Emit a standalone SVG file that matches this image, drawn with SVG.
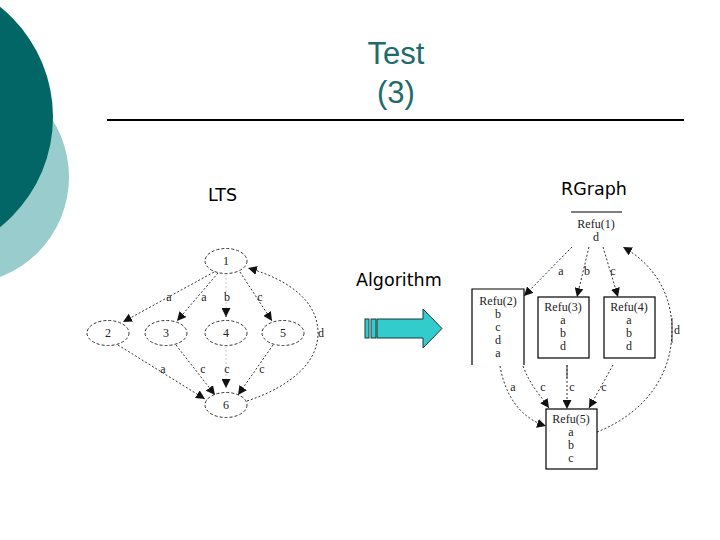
<svg xmlns="http://www.w3.org/2000/svg" width="720" height="540" viewBox="0 0 720 540">
<defs>
<style>
.ttl{font-family:"Liberation Sans",Arial,sans-serif;font-size:31px;fill:#1f6b6b;text-anchor:middle}
.hd{font-family:"DejaVu Sans",Verdana,sans-serif;font-size:17.5px;fill:#000}
.nd{fill:none;stroke:#333;stroke-width:1;stroke-dasharray:3,2}
.bx{fill:#fff;stroke:#000;stroke-width:1.2}
.lb{font-family:"Liberation Serif","Times New Roman",serif;font-size:12px;fill:#222;text-anchor:middle}
.e{fill:none;stroke:#333;stroke-width:1;stroke-dasharray:2,2}
.ef{fill:none;stroke:#ccc;stroke-width:1;stroke-dasharray:2,2}
</style>
<marker id="ah" viewBox="0 0 10 10" refX="10" refY="5" markerWidth="9" markerHeight="9" markerUnits="userSpaceOnUse" orient="auto">
<path d="M0,0 L10,5 L0,10 z" fill="#111"/>
</marker>
</defs>
<rect width="720" height="540" fill="#fff"/>
<circle cx="-38" cy="177" r="107" fill="#99cccc"/>
<circle cx="-88" cy="117" r="141" fill="#036666"/>
<text class="ttl" x="396" y="64">Test</text>
<text class="ttl" x="396" y="103">(3)</text>
<line x1="107" y1="120" x2="684" y2="120" stroke="#000" stroke-width="2.2"/>
<text class="hd" x="208" y="201">LTS</text>
<text class="hd" x="561" y="195">RGraph</text>
<text class="hd" x="356" y="286">Algorithm</text>
<g id="algo-arrow" fill="#33cccc" stroke="#1a3838" stroke-width="1">
<rect x="365" y="319" width="4" height="19"/>
<rect x="371" y="319" width="5" height="19"/>
<path d="M377,319 L423,319 L423,309 L442,328.5 L423,348 L423,338 L377,338 z"/>
</g>
<g id="lts-connectors">
<path class="e" d="M214,272 L123,322" marker-end="url(#ah)"/>
<path class="e" d="M218,273 L177,321" marker-end="url(#ah)"/>
<path class="ef" d="M226,274 L226,317"/>
<path d="M226,308 L226,317" class="e" stroke="none" marker-end="url(#ah)"/>
<path class="e" d="M240,272 L272,321" marker-end="url(#ah)"/>
<path class="e" d="M118,345 L205,399" marker-end="url(#ah)"/>
<path class="e" d="M176,345 L215,395" marker-end="url(#ah)"/>
<path class="ef" d="M226,346 L226,388"/>
<path d="M226,380 L226,388" class="e" stroke="none" marker-end="url(#ah)"/>
<path class="e" d="M273,345 L238,395" marker-end="url(#ah)"/>
<path class="e" d="M247,401 C292,386 318,362 318,333 C318,302 290,280 248,268" marker-end="url(#ah)"/>
<text class="lb" x="169" y="301">a</text>
<text class="lb" x="204" y="301">a</text>
<text class="lb" x="227" y="301">b</text>
<text class="lb" x="260" y="301">c</text>
<text class="lb" x="163" y="373">a</text>
<text class="lb" x="203" y="373">c</text>
<text class="lb" x="227" y="373">c</text>
<text class="lb" x="262" y="373">c</text>
<text class="lb" x="321" y="337">d</text>
</g>
<g id="lts1"><ellipse class="nd" cx="226" cy="261" rx="21" ry="12.5"/><text class="lb" x="226" y="265">1</text></g>
<g id="lts2"><ellipse class="nd" cx="108" cy="333" rx="21" ry="12.5"/><text class="lb" x="108" y="337">2</text></g>
<g id="lts3"><ellipse class="nd" cx="166" cy="333" rx="21" ry="12.5"/><text class="lb" x="166" y="337">3</text></g>
<g id="lts4"><ellipse class="nd" cx="226" cy="333" rx="21" ry="12.5"/><text class="lb" x="226" y="337">4</text></g>
<g id="lts5"><ellipse class="nd" cx="283" cy="333" rx="21" ry="12.5"/><text class="lb" x="283" y="337">5</text></g>
<g id="lts6"><ellipse class="nd" cx="226" cy="405" rx="21" ry="12.5"/><text class="lb" x="226" y="409">6</text></g>
<g id="rg-connectors">
<path class="e" d="M572,247 L524,296" marker-end="url(#ah)"/>
<path class="e" d="M589,247 L577,297" marker-end="url(#ah)"/>
<path class="e" d="M603,247 L618,297" marker-end="url(#ah)"/>
<path class="e" d="M597,432 C640,415 672,380 672,330 C672,295 655,265 623,247" marker-end="url(#ah)"/>
<line x1="672" y1="318" x2="672" y2="343" stroke="#333" stroke-width="1"/>
<path class="e" d="M500,366 C505,395 520,418 546,426" marker-end="url(#ah)"/>
<path class="e" d="M523,366 C530,385 540,395 549,408" marker-end="url(#ah)"/>
<path class="e" d="M567,365 L567,409" marker-end="url(#ah)"/>
<line x1="567" y1="365" x2="567" y2="378" stroke="#333" stroke-width="1"/>
<path class="e" d="M613,365 L589,408" marker-end="url(#ah)"/>
<text class="lb" x="561" y="275">a</text>
<text class="lb" x="587" y="275">b</text>
<text class="lb" x="613" y="275">c</text>
<text class="lb" x="677" y="334">d</text>
<text class="lb" x="513" y="391">a</text>
<text class="lb" x="543" y="391">c</text>
<text class="lb" x="572" y="391">c</text>
<text class="lb" x="604" y="391">c</text>
</g>
<g id="refu1">
<line x1="571" y1="212" x2="622" y2="212" stroke="#000" stroke-width="1"/>
<text class="lb" x="596" y="228">Refu(1)</text>
<text class="lb" x="596" y="241">d</text>
</g>
<g id="refu2">
<path d="M472,365 L472,289 L524,289 L524,365" fill="none" stroke="#000" stroke-width="1.2"/>
<text class="lb" x="498" y="305">Refu(2)</text>
<text class="lb" x="498" y="318">b</text>
<text class="lb" x="498" y="331">c</text>
<text class="lb" x="498" y="344">d</text>
<text class="lb" x="498" y="357">a</text>
</g>
<g id="refu3">
<rect class="bx" x="538" y="297" width="51" height="61"/>
<text class="lb" x="563" y="311">Refu(3)</text>
<text class="lb" x="563" y="324">a</text>
<text class="lb" x="563" y="337">b</text>
<text class="lb" x="563" y="350">d</text>
</g>
<g id="refu4">
<rect class="bx" x="604" y="297" width="51" height="61"/>
<text class="lb" x="629" y="311">Refu(4)</text>
<text class="lb" x="629" y="324">a</text>
<text class="lb" x="629" y="337">b</text>
<text class="lb" x="629" y="350">d</text>
</g>
<g id="refu5">
<rect class="bx" x="546" y="409" width="51" height="60"/>
<text class="lb" x="571" y="423">Refu(5)</text>
<text class="lb" x="571" y="436">a</text>
<text class="lb" x="571" y="449">b</text>
<text class="lb" x="571" y="462">c</text>
</g>
</svg>
